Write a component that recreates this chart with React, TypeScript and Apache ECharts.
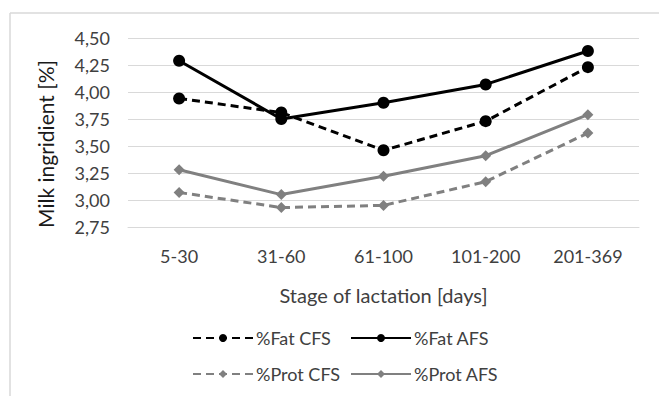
import React, { useEffect, useRef } from "react";
import * as echarts from "echarts";

const categories = ["5-30", "31-60", "61-100", "101-200", "201-369"];
const fatCFS = [3.94, 3.81, 3.46, 3.73, 4.23];
const fatAFS = [4.29, 3.75, 3.9, 4.07, 4.38];
const protCFS = [3.07, 2.93, 2.95, 3.17, 3.62];
const protAFS = [3.28, 3.05, 3.22, 3.41, 3.79];

const FONT = "Lato";
const TXT = "#404040";

export default function App() {
  const ref = useRef<HTMLDivElement>(null);
  useEffect(() => {
    if (!ref.current) return;
    const chart = echarts.init(ref.current, undefined, { renderer: "svg" });
    const black = "#000000";
    const gray = "#808080";
    const mk = (name: string, data: number[], color: string, dashed: boolean, symbol: string, size: number) => ({
      name,
      type: "line",
      data,
      symbol,
      symbolSize: size,
      itemStyle: { color },
      lineStyle: { color, width: 3, type: dashed ? [8, 5] : "solid" },
      emphasis: { disabled: true },
    });
    const legendText = { color: TXT, fontSize: 18, fontFamily: FONT, padding: [0, 0, 0, -2] };
    chart.setOption({
      animation: false,
      textStyle: { fontFamily: FONT },
      grid: { left: 128, right: 20, top: 38, bottom: 172 },
      graphic: [
        { type: "line", shape: { x1: 10, y1: 13, x2: 659, y2: 13 }, style: { stroke: "#d9d9d9", lineWidth: 1.5 } },
        { type: "line", shape: { x1: 10, y1: 13, x2: 10, y2: 396 }, style: { stroke: "#d9d9d9", lineWidth: 1.5 } },
        {
          type: "text",
          x: 45,
          y: 144,
          rotation: Math.PI / 2,
          style: {
            text: "Milk ingridient [%]",
            fontFamily: FONT,
            fontSize: 21,
            fill: "#1a1a1a",
            align: "center",
            verticalAlign: "middle",
          },
        },
      ],
      xAxis: {
        type: "category",
        data: categories,
        boundaryGap: true,
        axisLine: { show: true, lineStyle: { color: "#d9d9d9" } },
        axisTick: { show: false },
        axisLabel: { color: TXT, fontSize: 18, margin: 20, fontFamily: FONT },
        name: "Stage of lactation [days]",
        nameLocation: "middle",
        nameGap: 58,
        nameTextStyle: { color: TXT, fontSize: 20, fontFamily: FONT },
      },
      yAxis: {
        type: "value",
        min: 2.75,
        max: 4.5,
        interval: 0.25,
        axisLine: { show: false },
        axisTick: { show: false },
        splitLine: { lineStyle: { color: "#d9d9d9", width: 1 } },
        axisLabel: {
          color: TXT,
          fontSize: 18,
          margin: 18,
          fontFamily: FONT,
          formatter: (v: number) => v.toFixed(2).replace(".", ","),
        },
      },
      legend: [
        {
          orient: "vertical",
          left: 187,
          top: 324,
          itemWidth: 60,
          itemHeight: 10,
          itemGap: 18,
          data: ["%Fat CFS", "%Prot CFS"],
          textStyle: legendText,
        },
        {
          orient: "vertical",
          left: 345,
          top: 324,
          itemWidth: 60,
          itemHeight: 10,
          itemGap: 18,
          data: ["%Fat AFS", "%Prot AFS"],
          textStyle: legendText,
        },
      ],
      series: [
        mk("%Fat CFS", fatCFS, black, true, "circle", 12),
        mk("%Fat AFS", fatAFS, black, false, "circle", 12),
        mk("%Prot CFS", protCFS, gray, true, "diamond", 11),
        mk("%Prot AFS", protAFS, gray, false, "diamond", 11),
      ],
    });
    return () => chart.dispose();
  }, []);
  return (
    <div
      ref={ref}
      style={{ position: "fixed", left: 0, top: 0, width: 659, height: 399, background: "#fff" }}
    />
  );
}
